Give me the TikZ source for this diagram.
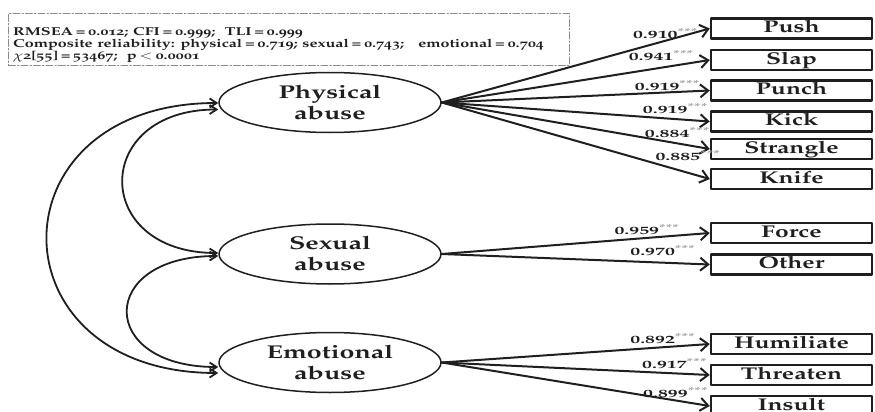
\documentclass[tikz,border=0pt]{standalone}
\usepackage[T1]{fontenc}
\usepackage[osf]{mathpazo}
\usepackage{graphicx}
\usetikzlibrary{arrows.meta,shapes.geometric}
\definecolor{SemInk}{gray}{0.12}
\definecolor{SemGuide}{gray}{0.55}
\definecolor{SemStar}{gray}{0.6}
\newcommand{\wide}[2][1.45]{\scalebox{#1}[1]{#2}}
\newcommand{\sig}{\textsuperscript{\textcolor{SemStar}{***}}}
\newcommand{\tightlines}{\setlength{\lineskiplimit}{-20pt}}
\tikzset{
    sem/diagram/.style={
        x=1pt, y=-1pt,
        draw=SemInk,
        text=SemInk,
        line cap=round,
        line join=round
    },
    sem/latent/.style={
        ellipse, draw=SemInk, line width=1.5pt,
        minimum width=222pt, minimum height=60pt,
        inner sep=0pt, align=center,
        font=\fontsize{18.5}{21}\selectfont\bfseries
    },
    sem/item/.style={
        rectangle, draw=SemInk, line width=2.5pt,
        minimum width=161pt, minimum height=20pt,
        inner sep=0pt, text height=12pt, text depth=4pt,
        font=\fontsize{17}{19}\selectfont\bfseries
    },
    sem/load/.style={
        draw=SemInk, line width=2pt,
        -{Straight Barb[length=8pt, width=13pt, line width=2pt]}
    },
    sem/cov/.style={
        draw=SemInk, line width=1.8pt,
        {Straight Barb[length=7pt, width=9pt]}-{Straight Barb[length=7pt, width=9pt]}
    },
    sem/coef/.style={
        font=\fontsize{11}{12}\fontfamily{pplx}\selectfont\bfseries, inner sep=0pt
    },
    sem/fitframe/.style={
        draw=SemGuide, line width=0.8pt,
        dash pattern=on 7pt off 2pt on 1.5pt off 2pt,
        minimum width=561pt, minimum height=52pt, inner sep=0pt
    },
    sem/fit/.style={
        align=left, inner sep=0pt,
        font=\fontsize{11.5}{10}\selectfont\bfseries
    }
}

\begin{document}
\begin{tikzpicture}[sem/diagram]
    \path[use as bounding box, clip] (0,0) rectangle (875,412);
    % fit indices
    \node[sem/fitframe, anchor=north west] (fitframe) at (8,13) {};
    \node[sem/fit, anchor=north west] (fit) at (13,27) {\tightlines
        \wide[1.4]{RMSEA\,=\,0.012; CFI\,=\,0.999; \ TLI\,=\,0.999}\\
        \wide[1.4]{Composite reliability: physical\,=\,0.719; sexual\,=\,0.743; \ \ emotional\,=\,0.704}\\
        \wide[1.4]{$\chi$2[55]\,=\,53467; \ p\,$<$\,0.0001}};
    % latent factors
    \node[sem/latent] (phys) at (330,102.5) {\wide{Physical}\\\wide{abuse}};
    \node[sem/latent] (sex) at (330,254) {\wide{Sexual}\\\wide{abuse}};
    \node[sem/latent] (emo) at (330,362.5) {\wide{Emotional}\\\wide{abuse}};
    % observed items
    \node[sem/item] (push) at (791.5,28.5) {\wide{Push}};
    \node[sem/item] (slap) at (791.5,60) {\wide{Slap}};
    \node[sem/item] (punch) at (791.5,90.5) {\wide{Punch}};
    \node[sem/item] (kick) at (791.5,121.5) {\wide{Kick}};
    \node[sem/item] (strangle) at (791.5,149) {\wide{Strangle}};
    \node[sem/item] (knife) at (791.5,179) {\wide{Knife}};
    \node[sem/item] (force) at (791.5,233) {\wide{Force}};
    \node[sem/item] (other) at (791.5,264.5) {\wide{Other}};
    \node[sem/item] (humil) at (791.5,344) {\wide{Humiliate}};
    \node[sem/item] (threat) at (791.5,375) {\wide{Threaten}};
    \node[sem/item] (insult) at (791.5,406) {\wide{Insult}};
    % loadings
    \draw[sem/load] (phys.east) -- (push.west)
        node[sem/coef, pos=.836, yshift=7.4pt] {\wide[1.8]{0.910\sig}};
    \draw[sem/load] (phys.east) -- (slap.west)
        node[sem/coef, pos=.82, yshift=12.5pt] {\wide[1.8]{0.941\sig}};
    \draw[sem/load] (phys.east) -- (punch.west)
        node[sem/coef, pos=.843, yshift=6.5pt] {\wide[1.8]{0.919\sig}};
    \draw[sem/load] (phys.east) -- (kick.west)
        node[sem/coef, pos=.873, yshift=10.6pt] {\wide[1.8]{0.919\sig}};
    \draw[sem/load] (phys.east) -- (strangle.west)
        node[sem/coef, pos=.88, yshift=10.4pt] {\wide[1.8]{0.884\sig}};
    \draw[sem/load] (phys.east) -- (knife.west)
        node[sem/coef, pos=.92, yshift=17pt] {\wide[1.8]{0.885\sig}};
    \draw[sem/load] (sex.east) -- (force.west)
        node[sem/coef, pos=.767, yshift=8pt] {\wide[1.8]{0.959\sig}};
    \draw[sem/load] (sex.east) -- (other.west)
        node[sem/coef, pos=.826, yshift=12pt] {\wide[1.8]{0.970\sig}};
    \draw[sem/load] (emo.east) -- (humil.west)
        node[sem/coef, pos=.826, yshift=9pt] {\wide[1.8]{0.892\sig}};
    \draw[sem/load] (emo.east) -- (threat.west)
        node[sem/coef, pos=.87, yshift=10pt] {\wide[1.8]{0.917\sig}};
    \draw[sem/load] (emo.east) -- (insult.west)
        node[sem/coef, pos=.874, yshift=7.6pt] {\wide[1.8]{0.899\sig}};
    % factor covariances
    \draw[sem/cov] ([yshift=-0.5pt]phys.west) .. controls (-10,103) and (-10,373) .. ([yshift=-10.5pt]emo.west);
    \draw[sem/cov] ([yshift=-7pt]phys.west) .. controls (91,109.5) and (91,253) .. ([yshift=1pt]sex.west);
    \draw[sem/cov] ([yshift=-2pt]sex.west) .. controls (97,256) and (97,367) .. ([yshift=-4.5pt]emo.west);
\end{tikzpicture}
\end{document}
